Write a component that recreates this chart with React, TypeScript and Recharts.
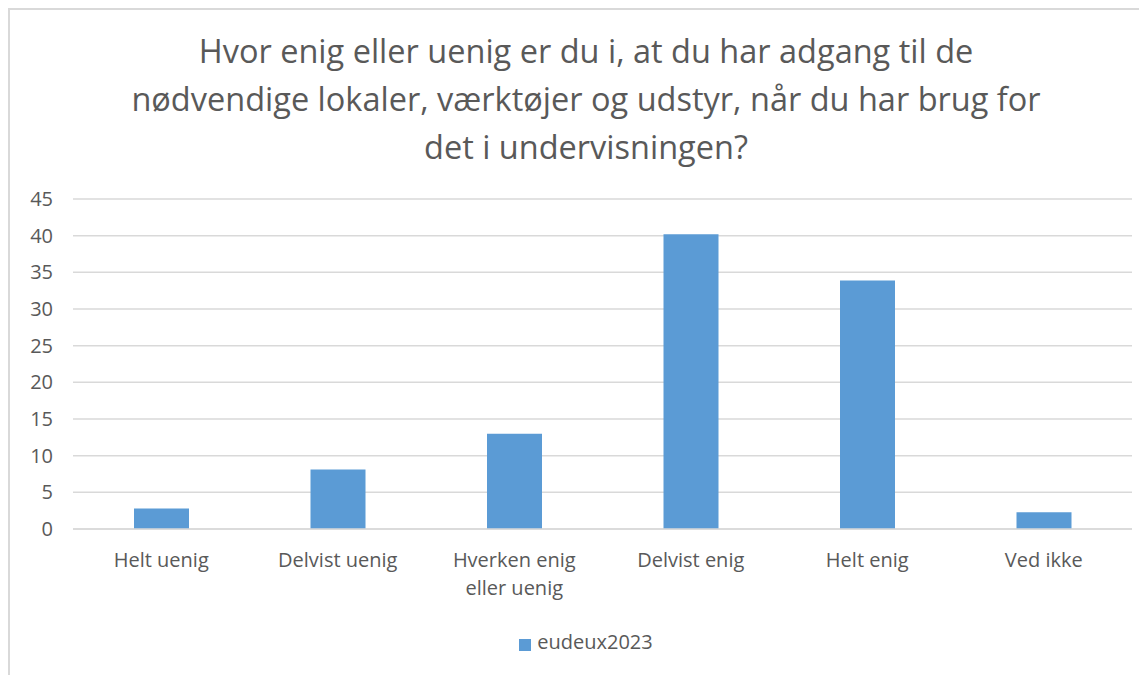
import React from 'react';
import { BarChart, Bar, XAxis, YAxis, CartesianGrid, Legend } from 'recharts';

// data
const categories = ['Helt uenig', 'Delvist uenig', 'Hverken enig eller uenig', 'Delvist enig', 'Helt enig', 'Ved ikke'];
const values = [2.8, 8.1, 13.0, 40.2, 33.9, 2.3];
const yTicks = [0, 5, 10, 15, 20, 25, 30, 35, 40, 45];
const seriesName = 'eudeux2023';
const titleLines = [
    'Hvor enig eller uenig er du i, at du har adgang til de',
    'nødvendige lokaler, værktøjer og udstyr, når du har brug for',
    'det i undervisningen?',
];

const data = categories.map((name, i) => ({ name, value: values[i] }));

const FONT = '"Open Sans", sans-serif';
const GREY_TEXT = '#595959';
const GRID = '#d9d9d9';

// simpel ordombrydning, max ~13 tegn pr linje
const wrapLabel = (label: string, maxChars = 13) => {
    const lines: string[] = [];
    let cur = '';
    label.split(' ').forEach(w => {
        const next = cur ? cur + ' ' + w : w;
        if (next.length > maxChars && cur) {
            lines.push(cur);
            cur = w;
        } else {
            cur = next;
        }
    });
    if (cur) lines.push(cur);
    return lines;
};

const CategoryTick = (props: any) => {
    const { x, y, payload } = props;
    const lines = wrapLabel(String(payload.value));
    return (
        <text x={x} y={y} textAnchor="middle" style={{ fontSize: 20, fill: GREY_TEXT, fontFamily: FONT }}>
            {lines.map((l, i) => (
                <tspan key={i} x={x} dy={i === 0 ? 15 : 28}>{l}</tspan>
            ))}
        </text>
    );
};

export default function App() {
    return (
        <div style={{
            position: 'relative',
            width: 1139,
            height: 667,
            overflow: 'hidden',
            borderTop: `2px solid ${GRID}`,
            borderLeft: `2px solid ${GRID}`,
            boxSizing: 'border-box',
            background: '#fff',
        }}>
            <div style={{
                position: 'absolute', left: 0, top: 17, width: 1152,
                textAlign: 'center', fontFamily: FONT, fontSize: 32.5, lineHeight: '48px', color: GREY_TEXT,
            }}>
                {titleLines.map((l, i) => <div key={i}>{l}</div>)}
            </div>
            <div style={{ position: 'absolute', left: -2, top: -2 }}>
                <BarChart
                    width={1152}
                    height={660}
                    data={data}
                    margin={{ top: 191, right: 28, left: 0, bottom: 0 }}
                >
                    <CartesianGrid vertical={false} stroke={GRID} strokeWidth={1.5} />
                    <XAxis
                        dataKey="name"
                        height={99}
                        axisLine={{ stroke: GRID, strokeWidth: 1.5 }}
                        tickLine={false}
                        tickSize={0}
                        tickMargin={23}
                        interval={0}
                        tick={<CategoryTick />}
                    />
                    <YAxis
                        width={65}
                        domain={[0, 45]}
                        ticks={yTicks}
                        axisLine={false}
                        tickLine={false}
                        tickSize={0}
                        tickMargin={20}
                        tick={{ fontSize: 20, fill: GREY_TEXT, fontFamily: FONT }}
                    />
                    <Legend
                        verticalAlign="bottom"
                        height={40}
                        iconType="square"
                        iconSize={12}
                        wrapperStyle={{ paddingLeft: 21 }}
                        formatter={(v: string) => <span style={{ color: GREY_TEXT, fontSize: 20, fontFamily: FONT, marginLeft: 2 }}>{v}</span>}
                    />
                    <Bar dataKey="value" name={seriesName} fill="#5b9bd5" barSize={55} isAnimationActive={false} />
                </BarChart>
            </div>
        </div>
    );
}
